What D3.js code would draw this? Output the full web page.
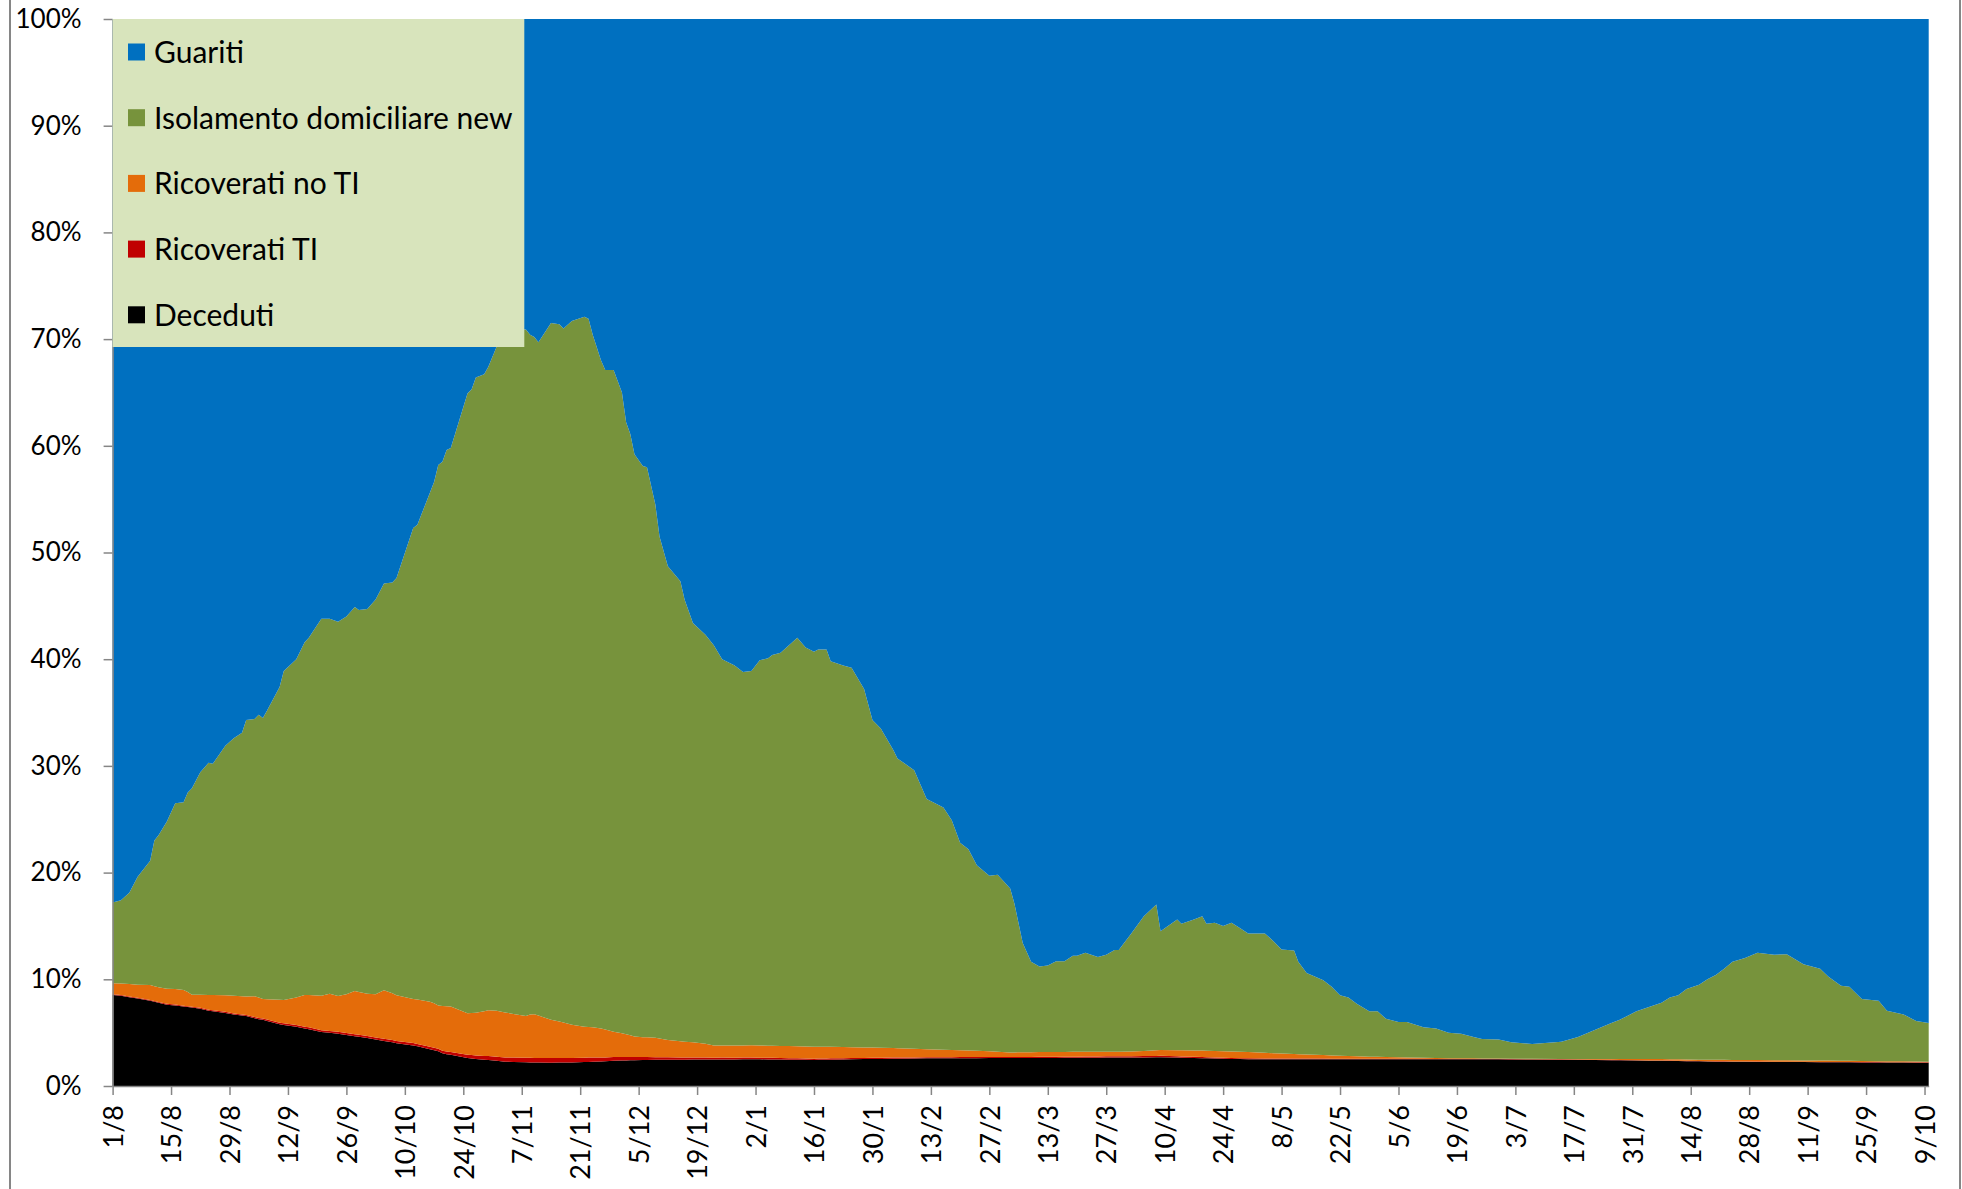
<!DOCTYPE html>
<html>
<head>
<meta charset="utf-8">
<script src="https://cdn.jsdelivr.net/npm/d3@7"></script>
<style>
    body { margin: 0; background: #fff; }
    svg text { font-family: Lato, "Open Sans", sans-serif; fill: #000; }
</style>
</head>
<body>
<svg id="chart" width="1962" height="1189"></svg>
<script>
// Day offsets from 1 Aug 2020 of each sampled point
const days = [
    0, 2, 4, 6, 9, 10, 11, 13, 15, 17,
    18, 19, 21, 23, 24, 27, 29, 31, 32, 34,
    35, 36, 37, 40, 41, 44, 46, 47, 50, 52,
    54, 56, 58, 59, 61, 63, 65, 67, 68, 72,
    73, 76, 77, 78, 79, 80, 81, 85, 86, 87,
    89, 90, 92, 94, 96, 99, 100, 101, 102, 105,
    107, 108, 110, 113, 114, 115, 117, 118, 120, 122,
    123, 124, 125, 127, 128, 130, 131, 133, 136, 137,
    139, 142, 144, 146, 149, 151, 153, 155, 157, 158,
    160, 162, 164, 166, 168, 169, 171, 172, 175, 177,
    180, 182, 184, 187, 188, 192, 195, 199, 201, 203,
    205, 207, 210, 212, 215, 216, 218, 220, 222, 224,
    226, 228, 230, 231, 233, 236, 238, 240, 241, 244,
    247, 250, 251, 255, 256, 259, 261, 262, 264, 266,
    268, 270, 272, 276, 278, 280, 283, 284, 286, 290,
    292, 294, 296, 298, 301, 303, 305, 308, 310, 314,
    317, 320, 323, 326, 328, 332, 335, 340, 347, 351,
    355, 359, 361, 365, 368, 371, 373, 375, 377, 380,
    382, 384, 386, 388, 391, 394, 398, 401, 405, 409,
    411, 414, 416, 419, 423, 425, 429, 432, 435
];

// Shares (%) of each group
const deceduti = [
    8.53, 8.45, 8.31, 8.2, 7.99, 7.9, 7.8, 7.62, 7.55, 7.45,
    7.4, 7.35, 7.25, 7.06, 7.0, 6.85, 6.7, 6.6, 6.55, 6.35,
    6.25, 6.2, 6.1, 5.78, 5.72, 5.55, 5.4, 5.33, 5.05, 4.98,
    4.9, 4.78, 4.66, 4.62, 4.5, 4.35, 4.22, 4.1, 4.0, 3.8,
    3.72, 3.45, 3.35, 3.25, 3.06, 2.98, 2.92, 2.62, 2.57, 2.52,
    2.46, 2.44, 2.36, 2.28, 2.25, 2.22, 2.21, 2.2, 2.2, 2.19,
    2.2, 2.2, 2.21, 2.25, 2.26, 2.28, 2.3, 2.32, 2.37, 2.39,
    2.4, 2.41, 2.42, 2.43, 2.44, 2.45, 2.46, 2.47, 2.47, 2.47,
    2.48, 2.48, 2.48, 2.49, 2.49, 2.5, 2.5, 2.5, 2.49, 2.49,
    2.48, 2.47, 2.46, 2.45, 2.44, 2.45, 2.46, 2.47, 2.49, 2.5,
    2.52, 2.53, 2.54, 2.56, 2.56, 2.58, 2.59, 2.6, 2.6, 2.61,
    2.61, 2.61, 2.62, 2.62, 2.62, 2.62, 2.62, 2.62, 2.63, 2.63,
    2.63, 2.64, 2.64, 2.64, 2.65, 2.65, 2.66, 2.66, 2.66, 2.67,
    2.68, 2.69, 2.7, 2.66, 2.65, 2.62, 2.6, 2.59, 2.57, 2.55,
    2.53, 2.52, 2.5, 2.5, 2.5, 2.5, 2.5, 2.5, 2.5, 2.5,
    2.5, 2.5, 2.5, 2.5, 2.5, 2.5, 2.5, 2.5, 2.5, 2.5,
    2.5, 2.5, 2.5, 2.5, 2.5, 2.5, 2.49, 2.48, 2.47, 2.46,
    2.44, 2.42, 2.41, 2.39, 2.37, 2.36, 2.35, 2.34, 2.33, 2.31,
    2.3, 2.28, 2.28, 2.27, 2.27, 2.26, 2.25, 2.25, 2.24, 2.23,
    2.23, 2.22, 2.22, 2.21, 2.21, 2.2, 2.2, 2.19, 2.19
];

const ricoveratiTI = [
    0.07, 0.07, 0.07, 0.07, 0.07, 0.07, 0.07, 0.08, 0.08, 0.08,
    0.08, 0.08, 0.09, 0.09, 0.09, 0.1, 0.1, 0.11, 0.11, 0.12,
    0.12, 0.12, 0.13, 0.15, 0.15, 0.16, 0.16, 0.17, 0.17, 0.18,
    0.18, 0.18, 0.19, 0.19, 0.19, 0.2, 0.2, 0.2, 0.21, 0.22,
    0.22, 0.23, 0.23, 0.24, 0.25, 0.26, 0.27, 0.32, 0.33, 0.34,
    0.36, 0.37, 0.38, 0.4, 0.41, 0.42, 0.43, 0.43, 0.43, 0.44,
    0.43, 0.43, 0.42, 0.4, 0.4, 0.39, 0.37, 0.36, 0.34, 0.32,
    0.31, 0.3, 0.29, 0.28, 0.27, 0.25, 0.24, 0.22, 0.2, 0.2,
    0.19, 0.18, 0.17, 0.17, 0.16, 0.16, 0.16, 0.15, 0.15, 0.15,
    0.14, 0.14, 0.13, 0.13, 0.12, 0.12, 0.12, 0.12, 0.12, 0.12,
    0.11, 0.11, 0.11, 0.11, 0.11, 0.1, 0.1, 0.1, 0.1, 0.1,
    0.1, 0.1, 0.1, 0.1, 0.1, 0.1, 0.1, 0.1, 0.1, 0.1,
    0.1, 0.11, 0.11, 0.11, 0.11, 0.11, 0.12, 0.12, 0.12, 0.12,
    0.12, 0.13, 0.13, 0.12, 0.12, 0.11, 0.11, 0.11, 0.1, 0.1,
    0.1, 0.09, 0.09, 0.08, 0.08, 0.08, 0.07, 0.07, 0.07, 0.07,
    0.06, 0.06, 0.06, 0.06, 0.06, 0.05, 0.05, 0.05, 0.05, 0.05,
    0.04, 0.04, 0.04, 0.04, 0.04, 0.04, 0.04, 0.03, 0.03, 0.03,
    0.03, 0.03, 0.03, 0.03, 0.03, 0.03, 0.03, 0.03, 0.03, 0.03,
    0.03, 0.03, 0.03, 0.03, 0.03, 0.03, 0.03, 0.03, 0.03, 0.03,
    0.03, 0.03, 0.03, 0.03, 0.03, 0.03, 0.03, 0.03, 0.03
];

const ricoveratiNoTI = [
    1.02, 1.08, 1.18, 1.23, 1.41, 1.38, 1.38, 1.42, 1.45, 1.47,
    1.32, 1.13, 1.21, 1.37, 1.43, 1.55, 1.65, 1.69, 1.72, 1.93,
    1.93, 1.83, 1.89, 2.15, 2.19, 2.59, 2.97, 3.03, 3.25, 3.49,
    3.36, 3.64, 4.05, 3.99, 3.96, 4.04, 4.55, 4.4, 4.29, 4.13,
    4.16, 4.22, 4.17, 4.06, 4.19, 4.23, 4.25, 3.88, 3.94, 4.01,
    4.18, 4.29, 4.31, 4.22, 4.09, 3.91, 4.06, 4.09, 3.97, 3.57,
    3.42, 3.32, 3.12, 2.9, 2.86, 2.83, 2.73, 2.62, 2.38, 2.24,
    2.14, 2.04, 1.94, 1.87, 1.86, 1.83, 1.75, 1.61, 1.53, 1.48,
    1.42, 1.29, 1.15, 1.14, 1.15, 1.14, 1.15, 1.15, 1.14, 1.13,
    1.14, 1.13, 1.13, 1.12, 1.13, 1.11, 1.09, 1.08, 1.04, 1.02,
    0.99, 0.97, 0.94, 0.88, 0.87, 0.8, 0.75, 0.7, 0.67, 0.63,
    0.61, 0.59, 0.54, 0.5, 0.43, 0.43, 0.44, 0.45, 0.45, 0.46,
    0.46, 0.44, 0.45, 0.45, 0.44, 0.45, 0.43, 0.44, 0.44, 0.45,
    0.48, 0.53, 0.54, 0.58, 0.58, 0.6, 0.61, 0.61, 0.62, 0.61,
    0.61, 0.61, 0.6, 0.54, 0.49, 0.46, 0.43, 0.41, 0.38, 0.33,
    0.3, 0.27, 0.24, 0.22, 0.19, 0.18, 0.16, 0.14, 0.13, 0.1,
    0.09, 0.07, 0.06, 0.05, 0.04, 0.03, 0.03, 0.04, 0.04, 0.05,
    0.06, 0.08, 0.09, 0.11, 0.12, 0.13, 0.13, 0.13, 0.13, 0.13,
    0.13, 0.14, 0.14, 0.14, 0.14, 0.14, 0.14, 0.13, 0.13, 0.12,
    0.12, 0.12, 0.11, 0.11, 0.09, 0.09, 0.08, 0.07, 0.06
];

const isolamento = [
    7.58, 7.8, 8.54, 10.1, 11.63, 13.65, 14.25, 15.68, 17.42, 17.6,
    18.7, 19.34, 20.85, 21.78, 21.68, 23.4, 24.15, 24.7, 25.92, 26.0,
    26.5, 26.35, 27.08, 29.32, 30.84, 31.7, 33.07, 33.47, 35.33, 35.15,
    35.06, 35.4, 36.0, 35.8, 36.05, 37.01, 38.13, 38.5, 39.1, 44.15,
    44.5, 47.7, 48.85, 50.65, 51.0, 52.13, 52.36, 58.08, 58.46, 59.53,
    59.7, 60.3, 62.25, 63.3, 64.25, 64.35, 63.7, 63.48, 63.1, 65.3,
    65.35, 65.05, 65.95, 66.55, 66.38, 64.9, 62.6, 61.8, 62.01, 60.05,
    57.35, 56.35, 54.55, 53.52, 53.43, 49.97, 47.05, 44.4, 43.1, 41.45,
    39.31, 38.35, 37.5, 36.2, 35.6, 35.0, 35.09, 36.1, 36.32, 36.63,
    36.84, 37.56, 38.28, 37.4, 37.01, 37.22, 37.23, 36.13, 35.75, 35.56,
    33.58, 30.69, 29.91, 27.95, 27.16, 26.12, 23.46, 22.7, 21.53, 19.46,
    18.88, 17.4, 16.44, 16.58, 15.35, 13.95, 10.24, 8.48, 8.02, 8.11,
    8.51, 8.51, 9.0, 9.0, 9.3, 8.89, 9.09, 9.53, 9.53, 11.06,
    12.62, 13.65, 11.13, 12.24, 11.85, 12.27, 12.58, 11.89, 12.01, 11.74,
    12.06, 11.58, 11.11, 11.18, 10.53, 9.76, 9.7, 8.67, 7.65, 7.0,
    6.44, 5.67, 5.5, 4.92, 4.25, 4.27, 3.59, 3.31, 3.32, 2.85,
    2.77, 2.39, 2.3, 2.01, 1.82, 1.78, 1.54, 1.39, 1.61, 2.06,
    2.72, 3.37, 3.67, 4.47, 4.88, 5.28, 5.79, 6.0, 6.61, 7.03,
    7.54, 7.95, 8.55, 9.21, 9.56, 10.07, 9.88, 9.94, 9.0, 8.62,
    7.87, 7.03, 6.94, 5.8, 5.67, 4.74, 4.39, 3.81, 3.62
];

const guariti = [
    82.8, 82.6, 81.9, 80.4, 78.9, 77.0, 76.5, 75.2, 73.5, 73.4,
    72.5, 72.1, 70.6, 69.7, 69.8, 68.1, 67.4, 66.9, 65.7, 65.6,
    65.2, 65.5, 64.8, 62.6, 61.1, 60.0, 58.4, 58.0, 56.2, 56.2,
    56.5, 56.0, 55.1, 55.4, 55.3, 54.4, 52.9, 52.8, 52.4, 47.7,
    47.4, 44.4, 43.4, 41.8, 41.5, 40.4, 40.2, 35.1, 34.7, 33.6,
    33.3, 32.6, 30.7, 29.8, 29.0, 29.1, 29.6, 29.8, 30.3, 28.5,
    28.6, 29.0, 28.3, 27.9, 28.1, 29.6, 32.0, 32.9, 32.9, 35.0,
    37.8, 38.9, 40.8, 41.9, 42.0, 45.5, 48.5, 51.3, 52.7, 54.4,
    56.6, 57.7, 58.7, 60.0, 60.6, 61.2, 61.1, 60.1, 59.9, 59.6,
    59.4, 58.7, 58.0, 58.9, 59.3, 59.1, 59.1, 60.2, 60.6, 60.8,
    62.8, 65.7, 66.5, 68.5, 69.3, 70.4, 73.1, 73.9, 75.1, 77.2,
    77.8, 79.3, 80.3, 80.2, 81.5, 82.9, 86.6, 88.35, 88.8, 88.7,
    88.3, 88.3, 87.8, 87.8, 87.5, 87.9, 87.7, 87.25, 87.25, 85.7,
    84.1, 83.0, 85.5, 84.4, 84.8, 84.4, 84.1, 84.8, 84.7, 85.0,
    84.7, 85.2, 85.7, 85.7, 86.4, 87.2, 87.3, 88.35, 89.4, 90.1,
    90.7, 91.5, 91.7, 92.3, 93.0, 93.0, 93.7, 94.0, 94.0, 94.5,
    94.6, 95.0, 95.1, 95.4, 95.6, 95.65, 95.9, 96.06, 95.85, 95.4,
    94.75, 94.1, 93.8, 93.0, 92.6, 92.2, 91.7, 91.5, 90.9, 90.5,
    90.0, 89.6, 89.0, 88.35, 88.0, 87.5, 87.7, 87.65, 88.6, 89.0,
    89.75, 90.6, 90.7, 91.85, 92.0, 92.94, 93.3, 93.9, 94.1
];

// Series, bottom to top
const seriesKeys = ['deceduti', 'ricoveratiTI', 'ricoveratiNoTI', 'isolamento', 'guariti'];
const seriesNames = ['Deceduti', 'Ricoverati TI', 'Ricoverati no TI', 'Isolamento domiciliare new', 'Guariti'];
const seriesColors = ['#000000', '#C00000', '#E46C0A', '#77933C', '#0070C0'];

// X tick labels, one every 14 days from 1/8
const xTickLabels = ['1/8', '15/8', '29/8', '12/9', '26/9', '10/10', '24/10', '7/11', '21/11', '5/12',
    '19/12', '2/1', '16/1', '30/1', '13/2', '27/2', '13/3', '27/3', '10/4', '24/4',
    '8/5', '22/5', '5/6', '19/6', '3/7', '17/7', '31/7', '14/8', '28/8', '11/9',
    '25/9', '9/10'];
const yTicks = [0, 0.1, 0.2, 0.3, 0.4, 0.5, 0.6, 0.7, 0.8, 0.9, 1];

// Layout
const width = 1962, height = 1189;
const plot = {left: 112.6, right: 1928.7, top: 19, bottom: 1086};
const startDate = new Date(Date.UTC(2020, 7, 1));
const lastDay = 435;
const axisColor = '#868686';

const svg = d3.select('#chart');

// Outer frame
svg.append('rect')
    .attr('x', 10).attr('y', -3)
    .attr('width', 1950).attr('height', height + 6)
    .attr('fill', 'none')
    .attr('stroke', axisColor)
    .attr('stroke-width', 2);

const xScale = d3.scaleUtc()
    .domain([startDate, d3.utcDay.offset(startDate, lastDay)])
    .range([plot.left, plot.right]);

const yScale = d3.scaleLinear()
    .domain([0, 1])
    .range([plot.bottom, plot.top]);

// Build table
const columns = {deceduti, ricoveratiTI, ricoveratiNoTI, isolamento, guariti};
const rows = days.map((d, i) => {
    const row = {date: d3.utcDay.offset(startDate, d)};
    seriesKeys.forEach(k => row[k] = columns[k][i]);
    return row;
});

const stacked = d3.stack()
    .keys(seriesKeys)
    .offset(d3.stackOffsetExpand)(rows);

const area = d3.area()
    .x(d => xScale(d.data.date))
    .y0(d => yScale(d[0]))
    .y1(d => yScale(d[1]));

svg.append('g')
    .selectAll('path')
    .data(stacked)
    .enter().append('path')
    .attr('d', area)
    .attr('fill', (d, i) => seriesColors[i]);

// Y axis
const yAxis = svg.append('g')
    .attr('transform', `translate(${plot.left},0)`)
    .call(d3.axisLeft(yScale)
        .tickValues(yTicks)
        .tickFormat(d3.format('.0%'))
        .tickSize(9)
        .tickSizeOuter(0)
        .tickPadding(22));
yAxis.selectAll('text')
    .style('font-size', '26px');

// X axis
const xTickDates = xTickLabels.map((lbl, i) => d3.utcDay.offset(startDate, i * 14));
const xAxis = svg.append('g')
    .attr('transform', `translate(0,${plot.bottom})`)
    .call(d3.axisBottom(xScale)
        .tickValues(xTickDates)
        .tickFormat((d, i) => xTickLabels[i])
        .tickSize(9)
        .tickSizeOuter(0));
xAxis.selectAll('text')
    .attr('transform', 'rotate(-90)')
    .attr('x', -19)
    .attr('y', 0)
    .attr('dy', '0.36em')
    .style('text-anchor', 'end')
    .style('font-size', '27px');

[yAxis, xAxis].forEach(ax => {
    ax.attr('font-family', null).attr('font-size', null);
    ax.selectAll('path, line')
        .attr('stroke', axisColor)
        .attr('stroke-width', 1.5);
});

// Legend
const legend = svg.append('g');
legend.append('rect')
    .attr('x', plot.left)
    .attr('y', plot.top)
    .attr('width', 411.7)
    .attr('height', 328)
    .attr('fill', '#D8E4BC');

const legendOrder = [4, 3, 2, 1, 0];
legendOrder.forEach((si, i) => {
    const cy = 52 + i * 65.7;
    legend.append('rect')
        .attr('x', 128)
        .attr('y', cy - 8.5)
        .attr('width', 17)
        .attr('height', 17)
        .attr('fill', seriesColors[si]);
    legend.append('text')
        .attr('x', 154)
        .attr('y', cy)
        .attr('dy', '0.36em')
        .style('font-size', '30px')
        .text(seriesNames[si]);
});
</script>
</body>
</html>
